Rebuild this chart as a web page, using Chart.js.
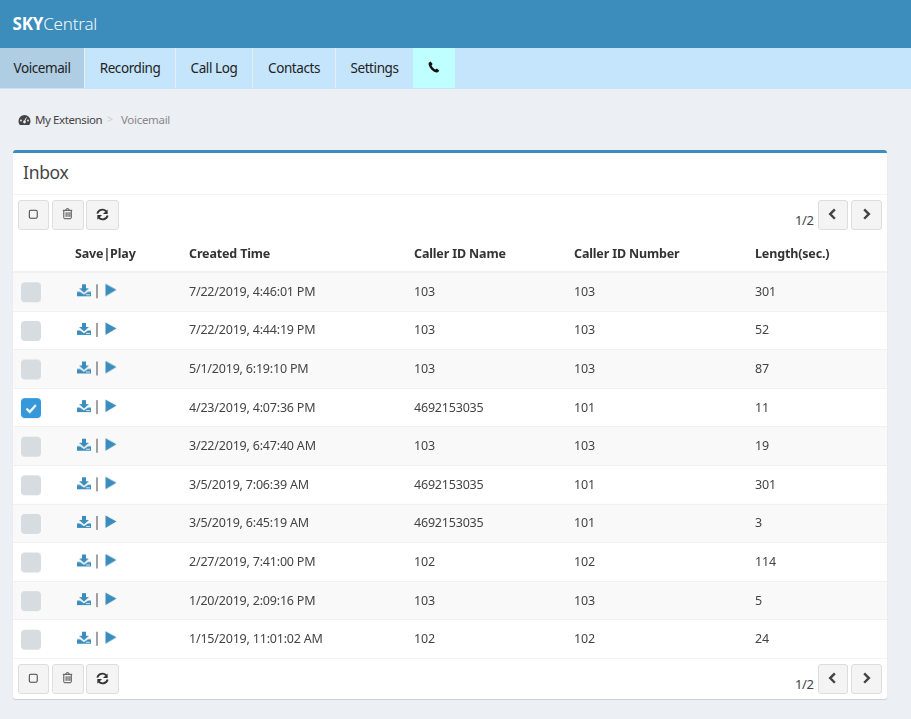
<!DOCTYPE html>
<html><head><meta charset="utf-8">
<script src="https://cdn.jsdelivr.net/npm/chart.js@4"></script>
<style>
html,body{margin:0;padding:0;width:911px;height:719px;overflow:hidden;background:#ecEff4;font-family:"Noto Sans",sans-serif;color:#333}
div,span,svg,canvas{position:absolute;box-sizing:border-box}
.t{white-space:nowrap;line-height:1}
#top{left:0;top:0;width:911px;height:48px;background:#3c8dbc;color:#fff}
#nav{left:0;top:48px;width:911px;height:41px;background:#c5e5fd}
.tab{top:0;height:40px;border-right:1px solid #e6eef3;color:#222;font-size:13.5px;line-height:40px;letter-spacing:-.42px;text-align:center}
.btn{background:#f4f4f4;border:1px solid #ddd;border-radius:3px;height:30px}
.btn svg{left:0;top:0;width:100%;height:100%}
#card{left:13px;top:150px;width:874px;height:549px;background:#fff;border-top:3px solid #3c8dbc;border-radius:3px;box-shadow:0 1px 1px rgba(0,0,0,.14)}
</style></head><body>
<div id="top"><span class="t" style="left:12.500px;top:15px;font-size:17px;letter-spacing:-.2px"><b>SKY</b><span style="position:static;font-weight:300;opacity:.95">Central</span></span></div>
<div id="nav">
<div class="tab" style="left:0;width:85px;background:#afcde3">Voicemail</div>
<div class="tab" style="left:85px;width:91px">Recording</div>
<div class="tab" style="left:176px;width:77px">Call Log</div>
<div class="tab" style="left:253px;width:83px">Contacts</div>
<div class="tab" style="left:336px;width:77px;border-right:0">Settings</div>
<div class="tab" style="left:413px;width:42px;background:#c0ffff;border-right:0;height:40px">
<svg style="left:15px;top:13px" width="12" height="12" viewBox="0 0 12 12"><path d="M2.600.5 1 1.600C.3 2.300.4 4 1.700 6.200 3.300 9 6 11.300 8.500 11.500c1 0 2-.6 2.800-1.800l-2.400-2.300-1.700 1C5.800 7.700 4.300 6 3.500 4.400l1.100-1.500z" fill="#111"/></svg></div>
</div>
<svg style="left:18px;top:114px" width="13" height="12" viewBox="0 0 13 12"><path d="M6.500 1a6 6 0 0 0-6 6c0 1.600.6 3 1.400 4h9.200c.8-1 1.400-2.400 1.400-4a6 6 0 0 0-6-6z" fill="#444"/><circle cx="6.500" cy="8" r="1.400" fill="#ecEff4"/><path d="M6.500 7 8.500 3.500" stroke="#ecEff4" stroke-width="1"/><circle cx="3" cy="6.500" r=".9" fill="#ecEff4"/><circle cx="10" cy="6.500" r=".9" fill="#ecEff4"/></svg>
<span class="t" style="left:35px;top:114px;font-size:11.5px;letter-spacing:-.4px;color:#444">My Extension</span>
<span class="t" style="left:107px;top:114px;font-size:10.5px;color:#ccc">&gt;</span>
<span class="t" style="left:121px;top:114px;font-size:11.5px;letter-spacing:-.3px;color:#888">Voicemail</span>

<div id="card"></div>
<span class="t" style="left:23px;top:164px;font-size:17.5px;letter-spacing:-.3px;color:#444">Inbox</span>
<div style="left:13px;top:194px;width:874px;height:1px;background:#f4f4f4"></div>

<div class="btn" style="left:18px;top:200px;width:31px"><svg viewBox="0 0 31 30"><rect x="11" y="10" width="8.500" height="8.500" rx="1.500" fill="none" stroke="#444" stroke-width="1.100"/></svg></div>
<div class="btn" style="left:52px;top:200px;width:32px"><svg viewBox="0 0 32 30"><path d="M11.500 11.500v7.500a1 1 0 0 0 1 1h6a1 1 0 0 0 1-1v-7.500M10.500 11h10M13.500 11l1-1.700h2l1 1.700M14 13v5M16 13v5M18 13v5" transform="translate(0 -1)" fill="none" stroke="#444" stroke-width="1"/></svg></div>
<div class="btn" style="left:86px;top:200px;width:33px"><svg viewBox="0 0 33 30"><path d="M11 13.500a5.500 5.500 0 0 1 9.500-2.300M22 15.500a5.500 5.500 0 0 1-9.500 2.300" fill="none" stroke="#333" stroke-width="2"/><path d="M22 9v5h-5zM11 20v-5h5z" fill="#333"/></svg></div>
<span class="t" style="left:795px;top:214px;font-size:13px;letter-spacing:-.4px;color:#444">1/2</span>
<div class="btn" style="left:818px;top:200px;width:30px"><svg viewBox="0 0 30 30"><path d="M17 9l-5 5 5 5" fill="none" stroke="#444" stroke-width="2.600"/></svg></div>
<div class="btn" style="left:851px;top:200px;width:31px"><svg viewBox="0 0 31 30"><path d="M13 9l5 5-5 5" fill="none" stroke="#444" stroke-width="2.600"/></svg></div>

<div style="left:13px;top:658px;width:874px;height:1px;background:#f4f4f4"></div>
<div class="btn" style="left:18px;top:664px;width:31px"><svg viewBox="0 0 31 30"><rect x="11" y="10" width="8.500" height="8.500" rx="1.500" fill="none" stroke="#444" stroke-width="1.100"/></svg></div>
<div class="btn" style="left:52px;top:664px;width:32px"><svg viewBox="0 0 32 30"><path d="M11.500 11.500v7.500a1 1 0 0 0 1 1h6a1 1 0 0 0 1-1v-7.500M10.500 11h10M13.500 11l1-1.700h2l1 1.700M14 13v5M16 13v5M18 13v5" transform="translate(0 -1)" fill="none" stroke="#444" stroke-width="1"/></svg></div>
<div class="btn" style="left:86px;top:664px;width:33px"><svg viewBox="0 0 33 30"><path d="M11 13.500a5.500 5.500 0 0 1 9.500-2.300M22 15.500a5.500 5.500 0 0 1-9.500 2.300" fill="none" stroke="#333" stroke-width="2"/><path d="M22 9v5h-5zM11 20v-5h5z" fill="#333"/></svg></div>
<span class="t" style="left:795px;top:678px;font-size:13px;letter-spacing:-.4px;color:#444">1/2</span>
<div class="btn" style="left:818px;top:664px;width:30px"><svg viewBox="0 0 30 30"><path d="M17 9l-5 5 5 5" fill="none" stroke="#444" stroke-width="2.600"/></svg></div>
<div class="btn" style="left:851px;top:664px;width:31px"><svg viewBox="0 0 31 30"><path d="M13 9l5 5-5 5" fill="none" stroke="#444" stroke-width="2.600"/></svg></div>

<canvas id="c" width="874" height="424" style="left:13px;top:234px;width:874px;height:424px"></canvas>
<script>
// Table contents
const headers = ["Save|Play", "Created Time", "Caller ID Name", "Caller ID Number", "Length(sec.)"];
const createdTimes = ["7/22/2019, 4:46:01 PM", "7/22/2019, 4:44:19 PM", "5/1/2019, 6:19:10 PM", "4/23/2019, 4:07:36 PM", "3/22/2019, 6:47:40 AM", "3/5/2019, 7:06:39 AM", "3/5/2019, 6:45:19 AM", "2/27/2019, 7:41:00 PM", "1/20/2019, 2:09:16 PM", "1/15/2019, 11:01:02 AM"];
const callerNames = ["103", "103", "103", "4692153035", "103", "4692153035", "4692153035", "102", "103", "102"];
const callerNumbers = ["103", "103", "103", "101", "103", "101", "101", "102", "103", "102"];
const lengths = [301, 52, 87, 11, 19, 301, 3, 114, 5, 24];
const selected = [false, false, false, true, false, false, false, false, false, false];

// Horizontal scale runs across the card; these are its column stops
const col = {check: 18, save: 71, bar: 84, play: 98, saveHead: 62, time: 176, name: 401, number: 561, length: 742};
const blue = "#3c8dbc";

function sprite(w, h, draw) {
  const s = document.createElement("canvas");
  s.width = w; s.height = h;
  draw(s.getContext("2d"));
  return s;
}
function rr(g, x, y, w, h, r, fill) { g.beginPath(); g.roundRect(x, y, w, h, r); g.fillStyle = fill; g.fill(); }
const boxOff = sprite(24, 24, g => rr(g, 2, 3, 20, 20, 4, "#d6dcdf"));
const boxOn = sprite(24, 24, g => {
  rr(g, 2, 3, 20, 20, 4, "#3498db");
  g.beginPath(); g.moveTo(7.500, 13.500); g.lineTo(10.800, 16.800); g.lineTo(16.800, 10);
  g.strokeStyle = "#fff"; g.lineWidth = 2.200; g.stroke();
});
const saveIcon = sprite(16, 16, g => {
  g.fillStyle = blue;
  g.fill(new Path2D("M6 1h4v4h3L8 9.500 3 5h3zM1 8.500h3L8 11.300 12 8.500h3V13H1z"));
  g.fillStyle = "#fff"; g.fillRect(10, 11, 4, .8);
});
const barIcon = sprite(3, 16, g => { g.fillStyle = "#444"; g.fillRect(1, 1, 1, 14); });
const playIcon = sprite(14, 16, g => { g.fillStyle = blue; g.fill(new Path2D("M1.500 0.500 12.500 6.500 1.500 13z")); });

function marks(x, style) {
  return {
    data: createdTimes.map(t => ({x, y: t})),
    pointStyle: style, pointRadius: 8, pointHoverRadius: 8,
    borderWidth: 0, showLine: false
  };
}
const rowFont = '12.5px "Noto Sans"';
const headFont = 'bold 12.5px "Noto Sans"';
const tablePlugin = {
  id: "table",
  beforeDatasetsDraw(chart) {
    const {ctx, scales: {x, y}, chartArea: a} = chart;
    const half = (y.getPixelForValue(1) - y.getPixelForValue(0)) / 2;
    ctx.save();
    createdTimes.forEach((t, i) => {
      const mid = y.getPixelForValue(i);
      if (i % 2 === 0) { ctx.fillStyle = "#f9f9f9"; ctx.fillRect(a.left, mid - half, a.right - a.left, half * 2); }
      ctx.fillStyle = "#f1f1f1"; ctx.fillRect(a.left, Math.round(mid - half), a.right - a.left, 1);
    });
    ctx.fillStyle = "#f1f1f1"; ctx.fillRect(a.left, a.top - 1, a.right - a.left, 2);
    ctx.textBaseline = "middle"; ctx.textAlign = "left";
    ctx.letterSpacing = "-0.2px";
    ctx.font = rowFont; ctx.fillStyle = "#444";
    createdTimes.forEach((t, i) => {
      const mid = y.getPixelForValue(i) + 1;
      ctx.fillText(t, x.getPixelForValue(col.time), mid);
      ctx.fillText(callerNames[i], x.getPixelForValue(col.name), mid);
      ctx.fillText(callerNumbers[i], x.getPixelForValue(col.number), mid);
      ctx.fillText(String(lengths[i]), x.getPixelForValue(col.length), mid);
    });
    ctx.letterSpacing = "-0.15px";
    ctx.font = headFont; ctx.fillStyle = "#333";
    [col.saveHead, col.time, col.name, col.number, col.length].forEach((c, i) =>
      ctx.fillText(headers[i], x.getPixelForValue(c), a.top - 18));
    ctx.restore();
  }
};
new Chart(document.getElementById("c"), {
  type: "scatter",
  data: {
    datasets: [
      {...marks(col.check, boxOff), pointStyle: selected.map(s => s ? boxOn : boxOff)},
      marks(col.save, saveIcon),
      marks(col.bar, barIcon),
      marks(col.play, playIcon)
    ]
  },
  options: {
    responsive: false, animation: false, devicePixelRatio: 1,
    layout: {padding: {top: 38}, autoPadding: false},
    events: [],
    plugins: {legend: {display: false}, title: {display: false}, tooltip: {enabled: false}},
    scales: {
      x: {type: "linear", min: 0, max: 874, display: false},
      y: {type: "category", labels: createdTimes, offset: true, display: false}
    }
  },
  plugins: [tablePlugin]
});
</script>
</body></html>
